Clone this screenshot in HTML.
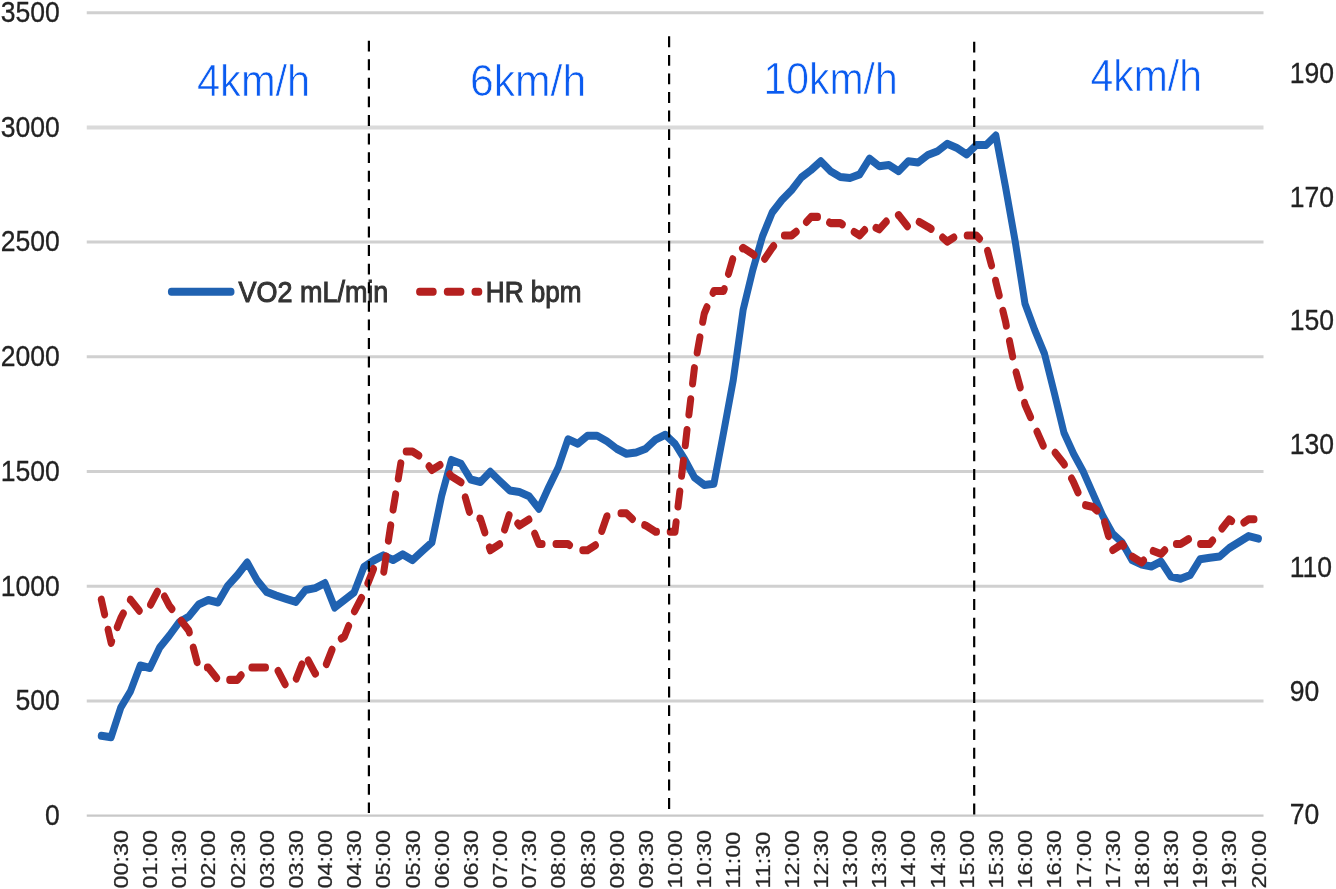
<!DOCTYPE html>
<html lang="en"><head><meta charset="utf-8"><title>VO2 and HR chart</title>
<style>
html,body{margin:0;padding:0;background:#fff;}
body{width:1336px;height:889px;overflow:hidden;}
svg{display:block;filter:blur(0.55px);}
text{font-family:"Liberation Sans",sans-serif;}
.ax{font-size:30px;fill:#222;stroke:#222;stroke-width:0.3px;}
.xl{font-size:20px;fill:#262626;stroke:#262626;stroke-width:0.25px;}
.sp{font-size:44px;fill:#0a5bf0;stroke:#fff;stroke-width:0.7px;}
.lg{font-size:29px;fill:#333;stroke:#333;stroke-width:1px;}
</style></head><body>
<svg width="1336" height="889" viewBox="0 0 1336 889">
<rect width="1336" height="889" fill="#fff"/>

<g stroke="#d0d0d0" stroke-width="3">
<line x1="86.75" y1="815.7" x2="1263.5" y2="815.7" stroke-width="2.2" stroke="#c8c8c8"/>
<line x1="86.75" y1="701.0" x2="1263.5" y2="701.0"/>
<line x1="86.75" y1="586.3" x2="1263.5" y2="586.3"/>
<line x1="86.75" y1="471.5" x2="1263.5" y2="471.5"/>
<line x1="86.75" y1="356.8" x2="1263.5" y2="356.8"/>
<line x1="86.75" y1="242.1" x2="1263.5" y2="242.1"/>
<line x1="86.75" y1="127.4" x2="1263.5" y2="127.4" stroke-width="4" stroke="#dadada"/>
<line x1="86.75" y1="12.7" x2="1263.5" y2="12.7"/>
</g>
<g class="ax" text-anchor="end">
<text transform="translate(59.8,825.0) scale(0.885,1)">0</text>
<text transform="translate(59.8,710.3) scale(0.885,1)">500</text>
<text transform="translate(59.8,595.6) scale(0.885,1)">1000</text>
<text transform="translate(59.8,480.8) scale(0.885,1)">1500</text>
<text transform="translate(59.8,366.1) scale(0.885,1)">2000</text>
<text transform="translate(59.8,251.4) scale(0.885,1)">2500</text>
<text transform="translate(59.8,136.7) scale(0.885,1)">3000</text>
<text transform="translate(59.8,22.0) scale(0.885,1)">3500</text>
</g>
<g class="ax">
<text transform="translate(1289.7,824.0) scale(0.885,1)">70</text>
<text transform="translate(1289.7,700.5) scale(0.885,1)">90</text>
<text transform="translate(1289.7,577.1) scale(0.885,1)">110</text>
<text transform="translate(1289.7,453.6) scale(0.885,1)">130</text>
<text transform="translate(1289.7,330.2) scale(0.885,1)">150</text>
<text transform="translate(1289.7,206.7) scale(0.885,1)">170</text>
<text transform="translate(1289.7,83.2) scale(0.885,1)">190</text>
</g>
<g class="xl">
<text transform="translate(127.9,888.5) rotate(-90) scale(1.17,1)">00:30</text>
<text transform="translate(157.0,888.5) rotate(-90) scale(1.17,1)">01:00</text>
<text transform="translate(186.2,888.5) rotate(-90) scale(1.17,1)">01:30</text>
<text transform="translate(215.4,888.5) rotate(-90) scale(1.17,1)">02:00</text>
<text transform="translate(244.6,888.5) rotate(-90) scale(1.17,1)">02:30</text>
<text transform="translate(273.7,888.5) rotate(-90) scale(1.17,1)">03:00</text>
<text transform="translate(302.9,888.5) rotate(-90) scale(1.17,1)">03:30</text>
<text transform="translate(332.1,888.5) rotate(-90) scale(1.17,1)">04:00</text>
<text transform="translate(361.2,888.5) rotate(-90) scale(1.17,1)">04:30</text>
<text transform="translate(390.4,888.5) rotate(-90) scale(1.17,1)">05:00</text>
<text transform="translate(419.6,888.5) rotate(-90) scale(1.17,1)">05:30</text>
<text transform="translate(448.7,888.5) rotate(-90) scale(1.17,1)">06:00</text>
<text transform="translate(477.9,888.5) rotate(-90) scale(1.17,1)">06:30</text>
<text transform="translate(507.1,888.5) rotate(-90) scale(1.17,1)">07:00</text>
<text transform="translate(536.2,888.5) rotate(-90) scale(1.17,1)">07:30</text>
<text transform="translate(565.4,888.5) rotate(-90) scale(1.17,1)">08:00</text>
<text transform="translate(594.6,888.5) rotate(-90) scale(1.17,1)">08:30</text>
<text transform="translate(623.8,888.5) rotate(-90) scale(1.17,1)">09:00</text>
<text transform="translate(652.9,888.5) rotate(-90) scale(1.17,1)">09:30</text>
<text transform="translate(682.1,888.5) rotate(-90) scale(1.17,1)">10:00</text>
<text transform="translate(711.3,888.5) rotate(-90) scale(1.17,1)">10:30</text>
<text transform="translate(740.4,888.5) rotate(-90) scale(1.17,1)">11:00</text>
<text transform="translate(769.6,888.5) rotate(-90) scale(1.17,1)">11:30</text>
<text transform="translate(798.8,888.5) rotate(-90) scale(1.17,1)">12:00</text>
<text transform="translate(827.9,888.5) rotate(-90) scale(1.17,1)">12:30</text>
<text transform="translate(857.1,888.5) rotate(-90) scale(1.17,1)">13:00</text>
<text transform="translate(886.3,888.5) rotate(-90) scale(1.17,1)">13:30</text>
<text transform="translate(915.4,888.5) rotate(-90) scale(1.17,1)">14:00</text>
<text transform="translate(944.6,888.5) rotate(-90) scale(1.17,1)">14:30</text>
<text transform="translate(973.8,888.5) rotate(-90) scale(1.17,1)">15:00</text>
<text transform="translate(1002.9,888.5) rotate(-90) scale(1.17,1)">15:30</text>
<text transform="translate(1032.1,888.5) rotate(-90) scale(1.17,1)">16:00</text>
<text transform="translate(1061.3,888.5) rotate(-90) scale(1.17,1)">16:30</text>
<text transform="translate(1090.5,888.5) rotate(-90) scale(1.17,1)">17:00</text>
<text transform="translate(1119.6,888.5) rotate(-90) scale(1.17,1)">17:30</text>
<text transform="translate(1148.8,888.5) rotate(-90) scale(1.17,1)">18:00</text>
<text transform="translate(1178.0,888.5) rotate(-90) scale(1.17,1)">18:30</text>
<text transform="translate(1207.1,888.5) rotate(-90) scale(1.17,1)">19:00</text>
<text transform="translate(1236.3,888.5) rotate(-90) scale(1.17,1)">19:30</text>
<text transform="translate(1265.5,888.5) rotate(-90) scale(1.17,1)">20:00</text>
</g>
<text class="sp" transform="translate(197,96) scale(0.945,1)">4km/h</text>
<text class="sp" transform="translate(470,95.5) scale(0.97,1)">6km/h</text>
<text class="sp" transform="translate(763.5,94.4) scale(0.93,1)">10km/h</text>
<text class="sp" transform="translate(1090.5,91) scale(0.93,1)">4km/h</text>
<g transform="scale(1,1.15)">
<path d="M101.3,639.8 L111.1,641.1 L120.8,615.2 L130.5,601.1 L140.2,578.7 L149.9,580.9 L159.7,563.0 L169.4,552.6 L179.1,541.1 L188.8,536.1 L198.6,525.7 L208.3,521.7 L218.0,523.9 L227.7,509.4 L237.5,500.0 L247.2,489.1 L256.9,504.3 L266.6,514.7 L276.3,517.9 L286.1,520.7 L295.8,523.4 L305.5,513.0 L315.2,511.4 L325.0,507.0 L334.7,528.3 L344.4,521.7 L354.1,515.2 L363.9,493.0 L373.6,487.4 L383.3,482.9 L393.0,487.0 L402.7,482.0 L412.5,487.0 L422.2,479.3 L431.9,471.7 L441.6,431.3 L451.4,400.0 L461.1,403.3 L470.8,417.0 L480.5,419.1 L490.3,410.2 L500.0,418.5 L509.7,426.5 L519.4,427.8 L529.1,431.5 L538.9,442.4 L548.6,423.9 L558.3,406.5 L568.0,382.0 L577.8,385.9 L587.5,378.9 L597.2,378.9 L606.9,383.7 L616.7,390.2 L626.4,394.6 L636.1,393.5 L645.8,390.2 L655.5,382.3 L665.3,378.0 L675.0,385.9 L684.7,399.5 L694.4,415.2 L704.2,421.7 L713.9,420.7 L723.6,376.1 L733.3,330.4 L743.1,269.6 L752.8,234.8 L762.5,205.4 L772.2,184.8 L781.9,173.9 L791.7,165.2 L801.4,154.3 L811.1,147.8 L820.8,140.2 L830.6,148.9 L840.3,153.9 L850.0,154.8 L859.7,151.7 L869.5,138.0 L879.2,144.6 L888.9,143.5 L898.6,148.9 L908.3,140.2 L918.1,141.3 L927.8,134.8 L937.5,131.5 L947.2,125.0 L957.0,128.7 L966.7,134.3 L976.4,126.1 L986.1,126.1 L995.8,117.8 L1005.6,163.0 L1015.3,210.4 L1025.0,264.1 L1034.7,287.0 L1044.5,307.6 L1054.2,341.3 L1063.9,376.1 L1073.6,394.6 L1083.4,410.4 L1093.1,429.6 L1102.8,448.7 L1112.5,463.9 L1122.2,471.9 L1132.0,487.0 L1141.7,491.0 L1151.4,492.6 L1161.1,488.3 L1170.9,501.4 L1180.6,503.3 L1190.3,500.0 L1200.0,486.3 L1209.8,485.0 L1219.5,484.0 L1229.2,476.6 L1238.9,471.4 L1248.6,466.2 L1258.4,468.4" fill="none" stroke="#2062b1" stroke-width="7" stroke-linecap="round" stroke-linejoin="round"/>
<path d="M101.3,521.4 L104.6,534.2 M108.1,547.6 L111.1,559.0 L111.6,557.8 M117.3,545.2 L120.8,537.5 L123.3,533.4 M130.4,521.6 L130.5,521.4 L139.2,531.0 M150.6,525.8 L157.4,514.5 M164.5,518.7 L169.4,526.8 L171.9,529.6 M181.2,539.8 L188.8,548.3 L189.3,549.9 M193.3,563.1 L197.1,575.8 M207.4,580.5 L208.3,580.5 L216.6,589.6 M229.7,591.2 L237.5,591.2 L241.1,587.2 M251.9,580.5 L256.9,580.5 L265.5,580.5 M278.1,583.4 L285.1,595.0 M296.3,590.1 L301.9,577.7 M308.3,574.4 L315.2,585.8 L315.5,585.7 M326.4,577.4 L332.0,565.0 M341.3,555.3 L344.4,553.6 L348.6,544.4 M354.5,531.5 L361.5,519.9 M367.9,507.2 L373.5,494.8 M383.8,497.1 L386.1,483.9 M388.4,470.1 L390.7,456.9 M393.1,443.1 L395.6,429.9 M398.3,416.1 L400.8,402.9 M406.2,392.6 L412.5,392.6 L418.8,396.1 M429.1,405.5 L431.9,408.7 L440.0,404.3 M449.8,412.4 L451.4,414.1 L461.0,419.4 M465.3,432.5 L469.4,445.1 M479.9,451.0 L480.5,451.1 L484.8,463.0 M489.4,476.1 L490.3,478.5 L499.6,473.3 M504.6,460.5 L509.1,448.0 M517.8,455.2 L519.4,457.0 L528.9,451.8 M534.7,464.0 L538.9,473.1 L542.1,473.1 M556.0,473.1 L558.3,473.1 L568.0,473.1 L569.5,474.0 M582.8,478.5 L587.5,478.5 L595.4,474.1 M601.8,461.7 L606.9,449.0 L607.0,449.0 M621.0,446.3 L626.4,446.3 L632.4,451.3 M644.7,456.7 L645.8,457.0 L655.5,462.4 L656.5,462.4 M670.2,462.4 L675.0,462.4 L676.1,454.1 M678.0,440.4 L679.8,427.4 M681.6,413.7 L683.4,400.7 M685.3,387.1 L687.0,374.0 M688.9,360.4 L690.7,347.2 M692.6,333.4 L694.4,320.1 M697.2,306.5 L699.9,293.4 M702.7,279.8 L704.2,272.9 L706.9,267.2 M713.1,254.7 L713.9,253.0 L723.6,253.0 L724.2,251.4 M728.5,238.1 L732.7,225.4 M742.5,215.9 L743.1,215.5 L752.8,220.8 L754.0,221.7 M764.7,225.1 L772.2,215.5 L773.6,213.9 M784.4,204.7 L791.7,204.7 L796.2,201.5 M806.5,193.0 L811.1,188.6 L817.5,188.6 M829.6,193.5 L830.6,194.0 L840.3,194.0 L842.3,195.1 M854.2,201.7 L859.7,204.7 L864.6,200.1 M876.0,198.1 L879.2,199.4 L886.2,192.7 M898.4,187.1 L898.6,187.0 L907.4,196.7 M919.2,193.0 L927.8,197.2 L931.1,199.0 M942.7,206.6 L947.2,210.1 L953.8,206.5 M967.2,204.7 L976.4,204.7 L979.5,207.5 M987.6,218.1 L991.5,230.8 M995.6,244.1 L995.8,245.0 L999.2,256.9 M1002.9,270.3 L1005.6,279.9 L1006.3,283.1 M1009.5,296.6 L1012.6,309.9 M1016.1,323.8 L1020.2,336.8 M1024.6,350.4 L1025.0,351.8 L1030.5,362.7 M1037.0,375.4 L1043.2,387.5 M1055.2,393.7 L1063.9,403.3 L1064.3,403.9 M1071.6,416.1 L1073.6,419.4 L1078.0,428.1 M1085.6,439.3 L1093.1,440.9 L1097.0,444.0 M1104.6,454.1 L1108.5,466.2 M1112.8,478.3 L1122.2,473.1 L1123.5,474.5 M1132.5,484.1 L1141.7,489.2 L1143.5,487.3 M1153.2,479.1 L1161.1,481.7 L1164.7,478.5 M1176.4,473.1 L1180.6,473.1 L1188.5,468.8 M1200.6,473.1 L1209.8,473.1 L1212.6,470.0 M1222.0,459.6 L1229.2,451.6 L1231.6,453.0 M1243.9,454.3 L1248.6,451.6 L1254.0,451.6" fill="none" stroke="#b5201f" stroke-width="7" stroke-linecap="round" stroke-linejoin="round"/>
<line x1="171.4" y1="253.74" x2="231" y2="253.74" stroke="#2062b1" stroke-width="7" stroke-linecap="round"/>
<line x1="419.6" y1="253.74" x2="478.8" y2="253.74" stroke="#b5201f" stroke-width="7" stroke-linecap="round" stroke-dasharray="13.6 14.1"/>
</g>
<text class="lg" transform="translate(238.5,302.3) scale(0.93,1)">VO2 mL/min</text>
<text class="lg" transform="translate(485.8,302.3) scale(0.9,1)">HR bpm</text>
<g stroke="#000" stroke-width="2.2" stroke-dasharray="10.9 7.68">
<line x1="368.9" y1="40.7" x2="368.9" y2="813"/>
<line x1="669.1" y1="36.3" x2="669.1" y2="815"/>
<line x1="974.2" y1="41.7" x2="974.2" y2="815"/>
</g>
</svg></body></html>
